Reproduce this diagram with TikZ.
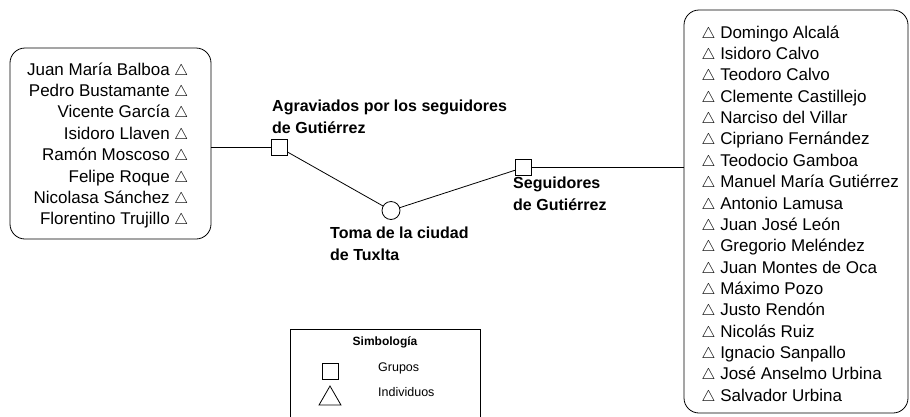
\documentclass[tikz,border=0pt]{standalone}
\usepackage{fontspec}
\setmainfont{Liberation Sans}
\usetikzlibrary{positioning, shapes.geometric}
\newcommand{\tri}{\smash{\scalebox{0.9}{$\triangle$}}}
\tikzset{
  lista/.style={draw, line width=0.8pt, rounded corners=15pt},
  nombres/.style={inner sep=0pt, font=\fontsize{17}{21.35}\selectfont},
  grupo/.style={draw, line width=0.8pt, fill=white, minimum size=16pt, inner sep=0pt},
  evento/.style={draw, line width=0.8pt, circle, fill=white, minimum size=18pt, inner sep=0pt},
  etiqueta/.style={font=\bfseries\fontsize{16}{22}\selectfont, align=left, inner sep=0pt},
  enlace/.style={line width=0.8pt},
  leyenda/.style={font=\fontsize{12.5}{14}\selectfont, inner sep=0pt}
}

\begin{document}
\begin{tikzpicture}[x=1pt, y=-1pt]
  \useasboundingbox (0,0) rectangle (910,416);

  % Left list: people aggrieved
  \node[lista, minimum width=201pt, minimum height=191pt] (izq) at (110.5,143.5) {};
  \node[nombres, align=right, anchor=east] (agraviados) at (188.5,145.5) {Juan María Balboa \tri\\
    Pedro Bustamante \tri\\
    Vicente García \tri\\
    Isidoro Llaven \tri\\
    Ramón Moscoso \tri\\
    Felipe Roque \tri\\
    Nicolasa Sánchez \tri\\
    Florentino Trujillo \tri};

  % Right list: followers
  \node[lista, minimum width=224pt, minimum height=403pt] (der) at (796,211.5) {};
  \node[nombres, align=left, anchor=west] (seguidores) at (701.5,213.5) {\tri\ Domingo Alcalá\\
    \tri\ Isidoro Calvo\\
    \tri\ Teodoro Calvo\\
    \tri\ Clemente Castillejo\\
    \tri\ Narciso del Villar\\
    \tri\ Cipriano Fernández\\
    \tri\ Teodocio Gamboa\\
    \tri\ Manuel María Gutiérrez\\
    \tri\ Antonio Lamusa\\
    \tri\ Juan José León\\
    \tri\ Gregorio Meléndez\\
    \tri\ Juan Montes de Oca\\
    \tri\ Máximo Pozo\\
    \tri\ Justo Rendón\\
    \tri\ Nicolás Ruiz\\
    \tri\ Ignacio Sanpallo\\
    \tri\ José Anselmo Urbina\\
    \tri\ Salvador Urbina};

  % Groups and event
  \node[grupo] (sqA) at (279.5,147.5) {};
  \node[evento] (toma) at (391,210.5) {};
  \node[grupo] (sqB) at (523.5,167.5) {};

  \node[etiqueta, anchor=south west] (lblA) at (272,134) {Agraviados por los seguidores\\de Gutiérrez};
  \node[etiqueta, anchor=north west] (lblToma) at (330,227) {Toma de la ciudad\\de Tuxlta};
  \node[etiqueta, anchor=north west] (lblB) at (513,177) {Seguidores\\de Gutiérrez};

  % Ties
  \draw[enlace] (izq.east |- sqA) -- (sqA);
  \draw[enlace] (sqA) -- (toma);
  \draw[enlace] (toma) -- (sqB);
  \draw[enlace] (sqB) -- (sqB -| der.west);

  % Legend
  \draw[enlace] (290,430) -- (290,329) -- (480,329) -- (480,430);
  \node[font=\bfseries\fontsize{12}{14}\selectfont] (simb) at (385,342) {Simbología};
  \node[grupo] (leyGrupo) at (330.5,371) {};
  \node[leyenda, anchor=west] (leyGrupoTxt) at (378,368) {Grupos};
  \node[draw, line width=0.8pt, regular polygon, regular polygon sides=3, minimum size=25.4pt, inner sep=0pt] (leyInd) at (330,398.7) {};
  \node[leyenda, anchor=west] (leyIndTxt) at (378,392) {Individuos};
\end{tikzpicture}
\end{document}
